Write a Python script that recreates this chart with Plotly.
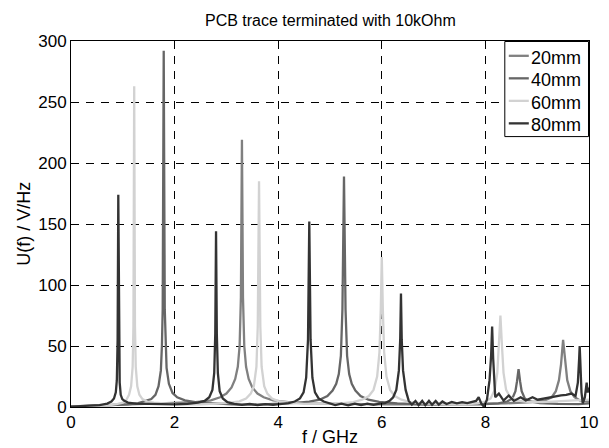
import plotly.graph_objects as go

title_text = "PCB trace terminated with 10kOhm"
x_label = "f / GHz"
y_label = "U(f) / V/Hz"
series_names = ["20mm", "40mm", "60mm", "80mm"]
series_colors = ["#808080", "#666666", "#d2d2d2", "#333333"]
x_ticks = [0, 2, 4, 6, 8, 10]
y_ticks = [0, 50, 100, 150, 200, 250, 300]

data_20mm = [(0,0.5),(0.5,1.2),(1.0,1.8),(1.5,2.4),(2.0,3),(2.4,4),(2.7,5.5),(2.88,8),(3.0,11),(3.1,16),(3.17,23),(3.22,33),(3.255,50),(3.28,90),(3.30,219),(3.32,90),(3.345,50),(3.38,33),(3.43,23),(3.5,16),(3.6,11),(3.72,8),(3.9,5.5),(4.2,4),(4.6,3),(5.2,2.5),(6.0,2.2),(7.0,2.2),(7.8,2.5),(8.4,3),(8.9,4),(9.15,5.5),(9.28,8),(9.36,13),(9.42,22),(9.46,35),(9.5,55),(9.54,35),(9.58,22),(9.64,13),(9.72,8),(9.82,5.5),(10,4.5)]

data_40mm = [(0,0.3),(0.4,0.8),(0.8,1.4),(1.1,2.2),(1.3,3.2),(1.45,4.8),(1.55,6.5),(1.63,10),(1.69,17),(1.735,30),(1.755,50),(1.77,80),(1.79,292),(1.81,80),(1.825,50),(1.845,32),(1.89,19),(1.96,11.5),(2.05,8),(2.2,5.5),(2.4,4),(2.7,3),(3.1,2.2),(3.6,2),(4.0,2.4),(4.35,3.3),(4.6,4.4),(4.8,6),(4.95,9),(5.05,13.5),(5.12,19),(5.17,27),(5.21,42),(5.24,80),(5.27,189),(5.30,80),(5.33,42),(5.37,27),(5.42,19),(5.49,13.5),(5.59,9),(5.74,6),(5.95,4.2),(6.3,3),(6.8,2.2),(7.4,2),(7.9,2.2),(8.25,3),(8.42,4.5),(8.52,7),(8.58,13),(8.61,21),(8.64,31),(8.67,21),(8.7,13),(8.76,7),(8.86,4.5),(9.05,3.2),(9.4,2.5),(9.8,2.4),(10,3)]

data_60mm = [(0,0.2),(0.4,0.6),(0.7,1.2),(0.9,2.5),(1.0,3.5),(1.07,6),(1.12,10),(1.16,17),(1.19,33),(1.205,66),(1.22,263),(1.235,66),(1.25,33),(1.28,17),(1.32,10),(1.38,6.5),(1.47,4.5),(1.6,3.5),(1.8,2.8),(2.1,2.2),(2.5,2.2),(2.8,2.6),(3.05,3.4),(3.25,4.6),(3.38,7),(3.47,11),(3.53,17),(3.58,33),(3.605,66),(3.63,185),(3.655,66),(3.68,33),(3.73,17),(3.79,11),(3.88,7),(4.0,4.8),(4.2,3.5),(4.5,2.6),(4.9,2.6),(5.2,3),(5.45,4),(5.62,6),(5.75,9),(5.84,14),(5.91,25),(5.955,45),(5.98,80),(6.0,123),(6.02,80),(6.045,45),(6.09,25),(6.16,14),(6.25,9),(6.38,6),(6.55,4),(6.8,3),(7.2,2.2),(7.6,2.2),(7.85,3),(8.0,4.5),(8.1,7),(8.18,14),(8.23,28),(8.26,50),(8.29,75),(8.32,50),(8.35,28),(8.4,14),(8.48,8),(8.6,5.5),(8.8,4.2),(9.1,4),(9.4,4.5),(9.7,5),(10,6)]

data_80mm = [(0,0.3),(0.3,0.8),(0.55,1.6),(0.7,2.8),(0.78,4.5),(0.83,7),(0.865,12),(0.885,22),(0.9,55),(0.913,174),(0.925,55),(0.94,20),(0.96,10),(0.99,6.5),(1.03,5),(1.1,3.6),(1.25,2.8),(1.45,2.5),(1.7,2.2),(2.0,2.2),(2.25,2.6),(2.45,3.5),(2.58,5),(2.67,8),(2.73,14),(2.765,28),(2.785,60),(2.80,144),(2.815,60),(2.835,28),(2.87,13),(2.93,7),(3.02,4),(3.15,2.5),(3.3,1.8),(3.45,2.6),(3.6,1.6),(3.75,2.4),(3.9,1.8),(4.05,2.6),(4.2,3.2),(4.32,4.5),(4.42,7),(4.49,12),(4.54,24),(4.575,55),(4.60,152),(4.625,55),(4.66,24),(4.71,12),(4.78,7),(4.88,4.5),(4.98,3),(5.1,1.6),(5.22,2.8),(5.35,1.4),(5.48,2.8),(5.6,1.5),(5.72,2.8),(5.84,1.8),(5.96,2.8),(6.06,3.2),(6.15,5),(6.22,8),(6.28,14),(6.33,30),(6.355,55),(6.37,93),(6.385,55),(6.41,30),(6.46,14),(6.52,5),(6.58,2),(6.65,5),(6.71,1.5),(6.78,5),(6.84,1.5),(6.91,5),(6.97,1.8),(7.04,5),(7.1,2),(7.17,4.5),(7.25,2.5),(7.35,4.2),(7.45,3),(7.55,4),(7.65,3.2),(7.75,4.2),(7.82,5),(7.87,8),(7.92,3),(7.97,0.3),(8.03,6),(8.08,22),(8.11,42),(8.13,66),(8.15,40),(8.19,8),(8.26,11),(8.35,5.3),(8.45,9.4),(8.55,5),(8.68,8),(8.78,5.3),(8.91,8),(9.01,6),(9.14,7),(9.27,8.5),(9.38,9),(9.46,9.5),(9.56,10),(9.66,11),(9.74,9),(9.785,20),(9.81,40),(9.82,50),(9.83,40),(9.855,12),(9.88,3),(9.92,8),(9.955,20),(9.975,12),(10,16)]

all_data = [data_20mm, data_40mm, data_60mm, data_80mm]

FONT = "Liberation Sans, Arial, Helvetica, sans-serif"
W, H = 609, 448
L, R, T, B = 70.7, 588.7, 41.0, 406.7

def px_x(px):
    return (px - L) / (R - L)

def px_y(py):
    return (B - py) / (B - T)

fig = go.Figure()
for name, color, d in zip(series_names, series_colors, all_data):
    fx = [p[0] for p in d]
    fu = [p[1] for p in d]
    fig.add_trace(go.Scatter(x=fx, y=fu, mode="lines", name=name,
                             line=dict(color=color, width=2.3),
                             showlegend=False, hoverinfo="skip"))

# manual legend (MATLAB-style)
shapes = [dict(type="rect", xref="paper", yref="paper",
               x0=px_x(504.5), x1=px_x(588.2), y0=px_y(136.5), y1=px_y(41.5),
               line=dict(color="black", width=1), fillcolor="white", layer="above")]
annotations = []
row_y = [55.8, 78.3, 100.8, 123.3]
for name, color, ry in zip(series_names, series_colors, row_y):
    shapes.append(dict(type="line", xref="paper", yref="paper",
                       x0=px_x(508.5), x1=px_x(528.5), y0=px_y(ry), y1=px_y(ry),
                       line=dict(color=color, width=2.3), layer="above"))
    annotations.append(dict(xref="paper", yref="paper", x=px_x(529.0), y=px_y(ry + 2),
                            xanchor="left", yanchor="middle", text=name, showarrow=False,
                            font=dict(family=FONT, size=18, color="black")))

annotations.append(dict(xref="paper", yref="paper", x=0.5, y=px_y(436.5),
                        xanchor="center", yanchor="middle", text=x_label, showarrow=False,
                        font=dict(family=FONT, size=18, color="black")))
annotations.append(dict(xref="paper", yref="paper", x=px_x(23.5), y=0.5,
                        xanchor="center", yanchor="middle", text=y_label, showarrow=False,
                        textangle=-90, font=dict(family=FONT, size=18, color="black")))
annotations.append(dict(xref="paper", yref="paper", x=0.5, y=px_y(21),
                        xanchor="center", yanchor="middle", text=title_text, showarrow=False,
                        font=dict(family=FONT, size=16, color="black")))

axis_common = dict(showline=True, linecolor="black", linewidth=1, mirror="allticks",
                   ticks="inside", ticklen=4, tickcolor="black", tickwidth=1,
                   showgrid=True, gridcolor="black", gridwidth=1, griddash="8px,7px",
                   zeroline=False, tickfont=dict(family=FONT, size=17, color="black"))

fig.update_xaxes(range=[0, 10], tickvals=x_ticks, ticktext=[str(v) for v in x_ticks], **axis_common)
fig.update_yaxes(range=[0, 300], tickvals=y_ticks, ticktext=[str(v) for v in y_ticks], **axis_common)

fig.update_layout(width=W, height=H, paper_bgcolor="white", plot_bgcolor="white",
                  margin=dict(l=L, r=W - R, t=T, b=H - B, pad=0),
                  shapes=shapes, annotations=annotations, showlegend=False,
                  hovermode=False, dragmode=False,
                  font=dict(family=FONT, color="black"))

page_css = ("document.body.style.margin='0';document.body.style.padding='0';"
            "document.body.style.overflow='hidden';")
fig.write_html("out.html", post_script=page_css,
               config={"displayModeBar": False, "staticPlot": True})
